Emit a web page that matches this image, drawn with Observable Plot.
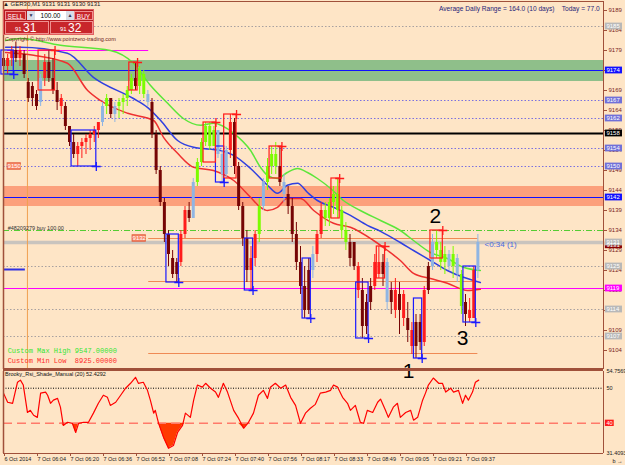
<!DOCTYPE html>
<html><head><meta charset="utf-8">
<script src="https://cdn.jsdelivr.net/npm/d3@7"></script>
<script src="https://cdn.jsdelivr.net/npm/@observablehq/plot@0.6"></script>
<style>
html,body{margin:0;padding:0;background:#fee5c6;}
#wrap{position:relative;width:625px;height:465px;background:#fee5c6;overflow:hidden;font-family:"Liberation Sans",Arial,sans-serif;}
.layer{position:absolute;left:0;}
.layer svg{overflow:visible;background:transparent;}
.t{position:absolute;white-space:pre;line-height:1;}
#panel{position:absolute;left:3px;top:9px;width:91px;height:26px;background:#b3191e;border:1px solid #e06060;box-sizing:border-box;}
.btn{position:absolute;top:1px;height:9px;background:#c8262b;color:#fff;font-size:6.5px;line-height:9px;text-align:center;border:1px solid #f09090;box-sizing:border-box;}
.arr{position:absolute;top:1px;height:9px;background:#d8dde8;color:#335;font-size:5px;line-height:9px;text-align:center;}
.inp{position:absolute;top:1px;height:9px;background:#fff;color:#000;font-size:6.5px;line-height:9px;text-align:center;}
.big{position:absolute;top:11px;height:13px;background:#c8262b;color:#fff;border:1px solid #f09090;box-sizing:border-box;}
.big .s{position:absolute;left:9px;top:4px;font-size:6px;}
.big .l{position:absolute;left:17px;top:0px;font-size:12px;line-height:12px;}
</style>
</head><body>
<div id="wrap">
  <div id="ind" class="layer" style="top:370px"></div>
  <div id="main" class="layer" style="top:0px"></div>
  <div class="t" style="left:3px;top:1px;font-size:6px;color:#202020">▲ GER30,M1 9131 9131 9130 9131</div>
  <div id="panel">
    <div class="btn" style="left:1px;width:21px">SELL</div>
    <div class="arr" style="left:23px;width:8px">▼</div>
    <div class="inp" style="left:31px;width:31px">100.00</div>
    <div class="arr" style="left:62px;width:8px">▲</div>
    <div class="btn" style="left:70px;width:19px">BUY</div>
    <div class="big" style="left:1px;width:44px"><span class="s">91</span><span class="l">31</span></div>
    <div class="big" style="left:46px;width:43px"><span class="s">91</span><span class="l">32</span></div>
  </div>
  <div class="t" style="left:5px;top:37px;font-size:5.5px;color:#6b2020">Copyright © http://www.pointzero-trading.com</div>
  <div class="t" style="left:439px;top:6px;font-size:6.6px;color:#1e1e78">Average Daily Range = 164.0 (10 days)    Today = 77.0</div>
  <div class="t" style="left:5px;top:372px;font-size:5.5px;color:#101010">Brooky_Rsi_Shade_Manual (20) 52.4292</div>
</div>
<script>
// ---------- data ----------
const barHigh  = [9179,9178,9180,9181,9180,9179,9172,9171,9169,9173,9178,9179,9177,9171,9168,9166,9160,9158,9156,9157,9158,9159,9160,9161,9166,9168,9167,9166,9167,9168,9170,9173,9176,9175,9174,9169,9167,9159,9150,9142,9134,9129,9127,9134,9140,9141,9147,9152,9157,9161,9161,9160,9159,9154,9155,9163,9162,9151,9141,9134,9130,9134,9142,9147,9152,9155,9156,9155,9148,9145,9142,9136,9130,9125,9127,9130,9134,9141,9141,9142,9145,9147,9140,9136,9133,9131,9126,9122,9118,9122,9128,9130,9128,9127,9121,9122,9121,9119,9116,9111,9113,9113,9120,9126,9133,9134,9131,9130,9129,9130,9128,9124,9118,9117,9125,9133];
const barLow   = [9174,9173,9175,9176,9175,9172,9166,9165,9164,9165,9170,9171,9168,9164,9163,9159,9155,9152,9150,9152,9153,9154,9156,9157,9160,9163,9162,9161,9162,9163,9165,9168,9169,9168,9167,9165,9157,9148,9140,9131,9125,9122,9121,9125,9132,9136,9137,9145,9150,9155,9154,9155,9152,9146,9147,9152,9148,9139,9130,9121,9119,9125,9131,9139,9144,9148,9148,9145,9141,9138,9131,9124,9118,9112,9113,9122,9126,9132,9135,9135,9138,9137,9132,9129,9125,9124,9117,9107,9108,9114,9119,9122,9120,9114,9113,9112,9108,9110,9106,9103,9102,9104,9105,9118,9124,9127,9124,9123,9124,9122,9121,9113,9110,9111,9112,9122];
const barOpen  = [9177,9175,9177,9179,9177,9178,9171,9167,9168,9166,9172,9176,9172,9169,9165,9165,9160,9156,9153,9155,9156,9157,9158,9159,9161,9165,9167,9163,9165,9166,9167,9169,9172,9170,9173,9168,9166,9158,9149,9141,9133,9127,9123,9126,9133,9139,9137,9146,9151,9156,9160,9155,9159,9153,9148,9154,9161,9150,9140,9132,9124,9127,9133,9140,9146,9150,9153,9150,9146,9143,9140,9133,9126,9120,9114,9124,9128,9133,9139,9137,9141,9143,9139,9134,9127,9131,9125,9119,9110,9116,9120,9126,9123,9126,9116,9119,9114,9118,9112,9109,9105,9111,9106,9119,9125,9131,9129,9126,9128,9125,9127,9123,9113,9114,9112,9124];
const barClose = [9175,9177,9179,9177,9179,9173,9167,9170,9165,9172,9176,9172,9169,9166,9167,9160,9156,9153,9155,9156,9157,9158,9159,9161,9165,9167,9163,9165,9166,9167,9169,9172,9170,9174,9168,9166,9158,9149,9141,9133,9128,9123,9126,9133,9139,9137,9146,9151,9156,9160,9155,9159,9153,9148,9154,9161,9150,9140,9132,9124,9127,9133,9140,9146,9150,9153,9150,9146,9143,9140,9133,9126,9120,9114,9124,9128,9133,9139,9137,9141,9143,9139,9134,9131,9131,9125,9119,9110,9116,9120,9126,9123,9126,9116,9119,9114,9118,9112,9109,9105,9111,9106,9119,9125,9131,9129,9126,9128,9125,9128,9123,9115,9116,9112,9124,9131];
const barKind  = "duududdddbuddduddduuuuuubgdbggggdggbddddddduudbgggggbbbudddduugbgggdbddddddbuuggggggdduddduudbdudududdudbgggbgbgduubg".split("");

// MA lines: [bar, price]
const maSlow = [[0.5,9181.5],[4.1,9182],[13.8,9180.3],[25.9,9179],[31.5,9175.8],[35.6,9170.3],[39.8,9165.8],[43.6,9162],[47.8,9160.3],[50.9,9160.8],[55.8,9158.3],[59.9,9154],[62.3,9149.8],[64,9147.8],[66.4,9147],[68.8,9148.5],[71.3,9149.5],[73.7,9148.5],[76.1,9147],[79.3,9144.5],[82.4,9141.5],[86.5,9139],[91.4,9136.5],[96.2,9134],[99.4,9131.5],[103.5,9128.5],[107.6,9127],[111.5,9124.8],[115.6,9124]];
const maMid  = [[0.5,9179.8],[4.1,9179.8],[15.5,9178.3],[21.8,9172.3],[31.5,9167],[34.9,9164.8],[38.1,9161.5],[42.2,9156.5],[46.1,9154.8],[52.6,9154],[55.8,9152.8],[59.9,9149.5],[64,9145.3],[66.4,9143.3],[68.8,9145.3],[71.3,9145.8],[73.7,9143.5],[76.1,9141.5],[80,9139.8],[84.1,9137.8],[88.2,9135.3],[91.4,9133.8],[96.2,9131],[99.4,9129],[103.5,9126.5],[107.6,9124],[111.5,9122.3],[115.6,9121]];
const maFast = [[0.5,9178.5],[7.3,9177.8],[15.5,9175.8],[20.4,9169],[23.5,9166.5],[30.1,9163.3],[36.4,9161.5],[38.8,9157.3],[42.2,9153.3],[46.1,9149.8],[50.9,9149],[55.8,9146.5],[59.9,9142.3],[62.3,9139.8],[64,9139],[66.4,9139.8],[68.8,9142],[72,9142],[75.2,9139],[80,9135.8],[84.1,9134.8],[89.7,9131.5],[93.1,9129],[96.2,9126.5],[99.4,9123.3],[103.5,9122],[107.6,9120.8],[112.5,9119],[115.6,9119.3]];

// boxes: [firstBar, lastBar, top, bottom]
const blueBoxes = [[0,2,9179,9173],[17,22,9159,9150],[40,42,9133,9121],[52,53,9155,9146],[59,60,9132,9119],[73,74,9127,9112],[86,88,9121,9107],[100,101,9117,9102],[112,114,9125,9111]];
const redBoxes  = [[9,12,9179,9169],[31,32,9176,9169],[49,51,9161,9151],[54,56,9163,9147],[65,67,9155,9147],[80,81,9147,9137],[91,92,9130,9122],[104,106,9134,9127]];

// horizontal levels
const dottedPurple = [9166.5, 9162, 9154.5, 9150];
const dottedGray   = [9185, 9125, 9114.25, 9107.5];
const greenZone = [9176.5, 9171.25];
const salmonZone = [9145, 9140];
const blueLevels = [9174, 9142.25];
const blackLevel = 9158.25;
const magentaLevel = 9119.5;
const tradeLevel = 9134;
const bidLevel = 9131;
const orangeLevels = [9132, 9121.25, 9103.25];
const orangeSpan = [35.2, 115];
const magentaShort = {p: 9179, from: 1, to: 35.2};
const blueShort = {p: 9124.25, from: 0, to: 5.3};
const sessionBar = 5.8;

const priceTicks = d3.range(9104, 9190, 5);
const axisBadges = [
  {p:9185, t:"9185", bg:"#b8b8b8"}, {p:9174, t:"9174", bg:"#1010ff"},
  {p:9166.5, t:"9167", bg:"#7070d8"}, {p:9162, t:"9162", bg:"#7070d8"},
  {p:9158.25, t:"9158", bg:"#000000"}, {p:9154.5, t:"9154", bg:"#7070d8"},
  {p:9150, t:"9150", bg:"#7070d8"}, {p:9142.25, t:"9142", bg:"#1010ff"},
  {p:9130.3, t:"9131", bg:"#8b0000"}, {p:9131, t:"9131", bg:"#b8b8b8"},
  {p:9125, t:"9125", bg:"#b8b8b8"}, {p:9119.5, t:"9119", bg:"#ff00ff"},
  {p:9114.25, t:"9114", bg:"#b8b8b8"}, {p:9107.5, t:"9107", bg:"#b8b8b8"}
];
const leftBadges = [{p:9150, t:"9150", b:1}, {p:9132, t:"9132", b:31.3}];
const marks123 = [{t:"1", b:98.2, p:9098.8}, {t:"2", b:104.7, p:9137.6}, {t:"3", b:111.3, p:9107}];
const customTexts = [{t:"Custom Max High 9547.00000", p:9104, c:"#33e633"}, {t:"Custom Min Low  8925.00000", p:9101.4, c:"#ff2a2a"}];

// RSI: [bar, value]
const rsi = [[0,48.6],[1,46.0],[2.2,45.7],[3.4,51.7],[4.1,52.3],[4.8,50.9],[5.8,43.1],[6.5,43.7],[7.3,42.3],[8.2,41.7],[9,48.6],[10.2,48.9],[10.7,48.0],[11.4,45.7],[12.1,46.6],[13.1,47.1],[13.8,44.6],[14.5,39.4],[15.5,40.3],[16.7,40.0],[17.5,37.4],[18.2,40.0],[19.4,40.3],[20.6,40.3],[21.8,42.9],[23,45.7],[24.2,48.0],[25.2,47.4],[25.9,45.1],[27.2,46.0],[28.4,48.0],[29.6,50.0],[30.8,51.4],[32,53.1],[32.7,51.4],[33.9,51.7],[34.9,49.4],[35.6,46.6],[36.4,42.9],[36.8,43.7],[37.6,40.0],[38.8,36.0],[40,32.9],[41.2,33.7],[42.2,37.4],[43.4,39.4],[44.1,42.9],[45.3,41.7],[46.1,46.6],[47,50.9],[48.2,50.3],[49,51.4],[50.2,50.0],[51.4,48.9],[52.1,47.4],[53.3,51.4],[54.3,48.9],[55.8,43.7],[57,41.4],[58.2,38.6],[59.4,40.3],[60.6,42.9],[61.8,48.0],[63,49.4],[64,47.1],[64.7,50.3],[65.9,51.4],[67.2,50.0],[68.4,50.9],[69.6,47.4],[70.8,45.1],[72,40.0],[73.2,42.9],[74.4,44.3],[75.6,45.4],[76.8,48.6],[78.1,48.9],[79.3,49.4],[80,50.9],[81,50.3],[82.2,47.4],[83.4,45.7],[84.1,43.7],[85.3,45.1],[86.5,40.3],[87.3,40.0],[88.2,43.7],[89.5,43.1],[90.7,46.0],[91.4,46.9],[92.6,43.7],[93.3,41.7],[94.5,44.6],[95.5,45.7],[96.2,41.7],[97.5,43.1],[98.7,43.7],[99.4,40.9],[100.4,41.7],[101.6,46.6],[102.3,48.6],[103,50.9],[104.2,52.9],[105.5,51.4],[106.4,51.4],[107.2,48.9],[108.4,50.0],[109.1,48.9],[110.3,49.4],[111.3,45.7],[112,48.0],[112.7,46.6],[113.7,48.9],[114.4,51.7],[115.2,52.3]];
const rsiRange = [31.4093, 54.7569];
const rsiLevels = [50, 40];

const timeTicks = d3.range(0, 113, 8);
const timeLabels = ["6 Oct 2014","7 Oct 06:04","7 Oct 06:20","7 Oct 06:36","7 Oct 06:52","7 Oct 07:08","7 Oct 07:24","7 Oct 07:40","7 Oct 07:56","7 Oct 08:17","7 Oct 08:33","7 Oct 08:49","7 Oct 09:05","7 Oct 09:21","7 Oct 09:37"];

// ---------- drawing ----------
const X_DOMAIN = [0, 600 / 4.125];
const XR = X_DOMAIN[1];
const FRAME = "#a0503a";
const AXIS_TXT = "#7b1f1f";
const kindColor = {d:"#760505", u:"#ff1c1c", g:"#7cfc00", b:"#8fb5e3"};

const bars = barHigh.map((h, i) => ({i, h, l: barLow[i], o: barOpen[i], c: barClose[i], col: kindColor[barKind[i]]}));
const pts = a => a.map(([b, v]) => ({b, v}));
const boxes = (a, col, plusTop) => a.map(([b1, b2, top, bot]) => ({x1: b1 - 0.5, x2: b2 + 0.5, top, bot, col, py: plusTop ? top : bot}));
const allBoxes = [...boxes(blueBoxes, "#1a1aff", false), ...boxes(redBoxes, "#ff1a1a", true)];
const hband = (y1, y2, fill) => Plot.rect([0], {x1: () => X_DOMAIN[0], x2: () => XR, y1: () => y1, y2: () => y2, fill});
const hseg = (p, b1, b2, opts) => Plot.ruleY([p], {x1: () => b1, x2: () => b2, ...opts});

const main = Plot.plot({
  width: 625, height: 370,
  marginLeft: 3, marginRight: 22, marginTop: 1, marginBottom: 1,
  style: {background: "transparent", overflow: "visible"},
  x: {domain: X_DOMAIN, axis: null},
  y: {domain: [9099.25, 9191.25], axis: null},
  color: {type: "identity"},
  marks: [
    hband(greenZone[0], greenZone[1], "#8fbf8a"),
    hband(salmonZone[0], salmonZone[1], "#fca07c"),
    Plot.ruleY(dottedPurple, {stroke: "#7a70e0", strokeDasharray: "1.5,2"}),
    Plot.ruleY(dottedGray, {stroke: "#a8a0a0", strokeDasharray: "1.5,2"}),
    Plot.ruleY([bidLevel], {stroke: "#c9c4be", strokeWidth: 3.5}),
    Plot.ruleY([tradeLevel], {stroke: "#55cc33", strokeDasharray: "6,2,1,2"}),
    Plot.ruleY(blueLevels, {stroke: "#1010ff", strokeWidth: 1.2}),
    Plot.ruleY([blackLevel], {stroke: "#000", strokeWidth: 2}),
    Plot.ruleY([magentaLevel], {stroke: "#ff00ff", strokeWidth: 1.2}),
    ...orangeLevels.map(p => hseg(p, orangeSpan[0], orangeSpan[1], {stroke: "#ef8a55", strokeWidth: 1.2})),
    hseg(magentaShort.p, magentaShort.from, magentaShort.to, {stroke: "#ff00ff"}),
    hseg(blueShort.p, blueShort.from, blueShort.to, {stroke: "#3030e0", strokeWidth: 2}),
    Plot.ruleX([sessionBar], {stroke: "#f0a050"}),
    // moving averages
    Plot.line(pts(maSlow), {x: "b", y: "v", stroke: "#5ce63a", curve: "monotone-x"}),
    Plot.line(pts(maMid), {x: "b", y: "v", stroke: "#3040e0", curve: "monotone-x"}),
    Plot.line(pts(maFast), {x: "b", y: "v", stroke: "#ee3030", curve: "monotone-x"}),
    // candles
    Plot.ruleX(bars, {x: "i", y1: "l", y2: "h", stroke: "col", strokeWidth: 1}),
    Plot.ruleX(bars, {x: "i", y1: "o", y2: "c", stroke: "col", strokeWidth: 3}),
    // boxes
    Plot.rect(allBoxes, {x1: "x1", x2: "x2", y1: "bot", y2: "top", stroke: "col", fill: "none", strokeWidth: 1.2}),
    Plot.dot(allBoxes, {x: "x2", y: "py", symbol: "plus", r: 3, stroke: "col", strokeWidth: 1.3}),
    // right axis
    Plot.axisY(priceTicks, {anchor: "right", tickSize: 3, tickPadding: 2, fontSize: 6, fill: AXIS_TXT, stroke: FRAME, tickFormat: d => String(d), fontFamily: "Liberation Sans"}),
    Plot.rect(axisBadges, {x1: () => XR + 0.45, x2: () => XR + 4.6, y1: d => d.p - 0.85, y2: d => d.p + 0.85, fill: "bg"}),
    Plot.text(axisBadges, {x: () => XR + 0.7, y: "p", text: "t", textAnchor: "start", fill: "white", fontSize: 6, fontFamily: "Liberation Sans"}),
    Plot.rect(leftBadges, {x1: "b", x2: d => d.b + 3.2, y1: d => d.p - 0.8, y2: d => d.p + 0.8, fill: "#fa8a6a", stroke: "#e06040"}),
    Plot.text(leftBadges, {x: d => d.b + 1.6, y: "p", text: "t", fill: "white", fontSize: 6, fontFamily: "Liberation Sans"}),
    // texts
    Plot.text(["#48209279 buy 100.00"], {x: () => 1, y: () => tradeLevel, text: d => d, textAnchor: "start", lineAnchor: "bottom", dy: -1, fontSize: 5.5, fill: "#333", fontFamily: "Liberation Sans"}),
    Plot.text(["<0:34 (1)"], {x: () => 116.6, y: () => 9130.5, text: d => d, textAnchor: "start", fontSize: 8, fill: "#4a6ae0", fontFamily: "Liberation Sans"}),
    Plot.text(customTexts, {x: () => 1, y: "p", text: "t", fill: "c", textAnchor: "start", fontSize: 7, fontFamily: "Liberation Mono"}),
    Plot.text(marks123, {x: "b", y: "p", text: "t", fontSize: 21, fill: "#000", fontFamily: "Liberation Sans"}),
    // frame
    Plot.ruleX([X_DOMAIN[0]], {stroke: FRAME, strokeWidth: 1.5}),
    Plot.ruleX([XR], {stroke: FRAME}),
    Plot.ruleY([9191.25], {stroke: FRAME}),
    Plot.ruleY([9099.25], {stroke: FRAME, strokeWidth: 3})
  ]
});
document.getElementById("main").appendChild(main);

const rsiPts = pts(rsi);
const ind = Plot.plot({
  width: 625, height: 95,
  marginLeft: 3, marginRight: 22, marginTop: 1, marginBottom: 12,
  style: {background: "transparent", overflow: "visible"},
  x: {domain: X_DOMAIN, axis: null},
  y: {domain: rsiRange, axis: null},
  marks: [
    Plot.areaY(rsiPts, {x: "b", y1: () => rsiLevels[1], y2: d => Math.min(d.v, rsiLevels[1]), fill: "#ff3a00"}),
    Plot.ruleY([rsiLevels[0]], {stroke: "#000", strokeDasharray: "1,1.5"}),
    Plot.ruleY([rsiLevels[1]], {stroke: "#ff7a6a", strokeDasharray: "9,5", strokeWidth: 1.5}),
    Plot.line(rsiPts, {x: "b", y: "v", stroke: "#ff0000", strokeWidth: 1.2}),
    Plot.axisX(timeTicks, {anchor: "bottom", tickSize: 3, tickPadding: 1, textAnchor: "start", dx: 1, fontSize: 5.5, fill: "#202020", stroke: FRAME, tickFormat: d => timeLabels[timeTicks.indexOf(d)], fontFamily: "Liberation Sans"}),
    Plot.rect([rsiLevels[1]], {x1: () => XR + 0.45, x2: () => XR + 2.6, y1: d => d - 0.9, y2: d => d + 0.9, fill: "#ff1a1a"}),
    Plot.text([rsiRange[1], rsiLevels[0], rsiLevels[1], rsiRange[0]], {x: () => XR, y: d => d, text: d => String(d), textAnchor: "start", dx: 3, fontSize: 5.5, fill: (d) => d === 40 ? "#fff" : "#202020", fontFamily: "Liberation Sans"}),
    Plot.ruleX([X_DOMAIN[0]], {stroke: FRAME, strokeWidth: 1.5}),
    Plot.ruleX([XR], {stroke: FRAME}),
    Plot.ruleY([rsiRange[0]], {stroke: FRAME})
  ]
});
document.getElementById("ind").appendChild(ind);
</script>
</body></html>
